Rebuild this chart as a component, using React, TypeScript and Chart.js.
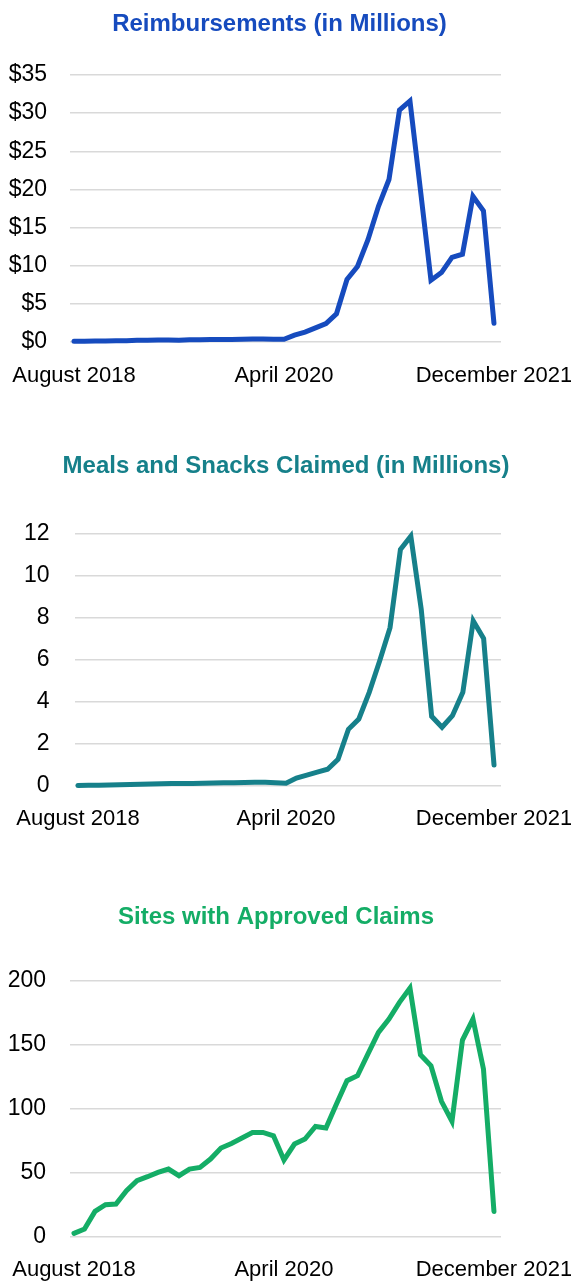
import React, { useEffect, useRef } from "react";
import { Chart, registerables } from "chart.js";

Chart.register(...registerables);

// x positions are month indexes: 0 = August 2018 ... 40 = December 2021
const xTickIndex = [0, 20, 40];
const xTickLabels = ["August 2018", "April 2020", "December 2021"];

const reimbursements = [
  0.1, 0.1, 0.12, 0.14, 0.16, 0.18, 0.22, 0.24, 0.26, 0.25, 0.24, 0.28, 0.3, 0.32,
  0.34, 0.33, 0.36, 0.4, 0.38, 0.36, 0.35, 0.9, 1.3, 1.85, 2.4, 3.7, 8.2, 9.9, 13.4,
  17.8, 21.3, 30.4, 31.6, 19.9, 8.1, 9.1, 11.1, 11.5, 19.1, 17.2, 2.45,
];

const meals = [
  0.02, 0.03, 0.04, 0.05, 0.06, 0.07, 0.08, 0.1, 0.11, 0.12, 0.12, 0.12, 0.13, 0.14,
  0.15, 0.16, 0.17, 0.18, 0.18, 0.16, 0.13, 0.38, 0.52, 0.66, 0.8, 1.27, 2.7, 3.19,
  4.46, 5.95, 7.54, 11.26, 11.9, 8.42, 3.32, 2.8, 3.35, 4.46, 7.86, 7.02, 1.0,
];

const sites = [
  2.8, 6.2, 20, 25.2, 25.8, 36.2, 44, 47.1, 50.5, 53.1, 47.9, 53.1, 54.4, 60.9, 69.5,
  73.1, 77.3, 81.7, 81.7, 79.1, 60.2, 72.6, 76.5, 86.4, 85.1, 103.9, 122.1, 126, 143,
  159.8, 170.3, 183.3, 194.5, 142.4, 133.8, 106, 90.3, 153.9, 170.3, 131.2, 20,
];

const FONT = '"Liberation Sans", Arial, sans-serif';

const shiftTitle = {
  id: "shiftTitle",
  afterLayout(chart: any, _args: any, opts: any) {
    const t = chart.titleBlock;
    if (t && opts && opts.dx) {
      t.left += opts.dx;
      t.right += opts.dx;
    }
  },
};

type PanelProps = {
  title: string;
  color: string;
  values: number[];
  height: number;
  padTop: number;
  titleGap: number;
  titleDx: number;
  padRight: number;
  yWidth: number;
  yPad: number;
  xHeight: number;
  xPad: number;
  xMin: number;
  xMax: number;
  yMax: number;
  yStep: number;
  prefix: string;
};

function Panel(p: PanelProps) {
  const ref = useRef<HTMLCanvasElement>(null);
  useEffect(() => {
    const chart = new Chart(ref.current as HTMLCanvasElement, {
      type: "line",
      data: {
        datasets: [
          {
            data: p.values.map((v, i) => ({ x: i, y: v })),
            borderColor: p.color,
            backgroundColor: p.color,
            borderWidth: 5,
            pointRadius: 0,
            tension: 0,
            fill: false,
            borderCapStyle: "round",
            borderJoinStyle: "miter",
            clip: false,
          } as any,
        ],
      },
      plugins: [shiftTitle],
      options: {
        responsive: false,
        animation: false,
        layout: {
          padding: { top: p.padTop, left: 0, right: p.padRight, bottom: 0 },
        },
        plugins: {
          legend: { display: false },
          tooltip: { enabled: false },
          shiftTitle: { dx: p.titleDx },
          title: {
            display: true,
            text: p.title,
            color: p.color,
            font: { family: FONT, size: 24, weight: "bold", lineHeight: 1.2 },
            padding: { top: 0, bottom: p.titleGap },
          },
        },
        scales: {
          x: {
            type: "linear",
            min: p.xMin,
            max: p.xMax,
            grid: { display: false, drawTicks: false },
            border: { display: false },
            afterBuildTicks: (s: any) => {
              s.ticks = xTickIndex.map((v) => ({ value: v }));
            },
            afterFit: (s: any) => {
              s.height = p.xHeight;
              s.paddingLeft = 0;
              s.paddingRight = 0;
            },
            ticks: {
              autoSkip: false,
              maxRotation: 0,
              minRotation: 0,
              color: "#000",
              padding: p.xPad,
              font: { family: FONT, size: 22, lineHeight: 1.2 },
              callback: (v: any) => {
                const k = xTickIndex.indexOf(Number(v));
                return k >= 0 ? xTickLabels[k] : "";
              },
            },
          },
          y: {
            min: 0,
            max: p.yMax,
            grid: { color: "#d9d9d9", lineWidth: 1.5, drawTicks: false },
            border: { display: false },
            afterFit: (s: any) => {
              s.width = p.yWidth;
              s.paddingTop = 0;
              s.paddingBottom = 0;
            },
            ticks: {
              stepSize: p.yStep,
              color: "#000",
              padding: p.yPad,
              font: { family: FONT, size: 23, lineHeight: 1.2 },
              callback: (v: any) => p.prefix + v,
            },
          },
        },
      } as any,
    });
    return () => chart.destroy();
  }, []);
  return (
    <canvas
      ref={ref}
      width={571}
      height={p.height}
      style={{ display: "block", width: 571, height: p.height }}
    />
  );
}

export default function App() {
  return (
    <div style={{ position: "absolute", left: 0, top: 0, width: 571, background: "#fff" }}>
      <Panel
        title="Reimbursements (in Millions)"
        color="#164BBE"
        values={reimbursements}
        height={400}
        padTop={9.6}
        titleGap={36.6}
        titleDx={29}
        padRight={70}
        yWidth={70}
        yPad={23}
        xHeight={58}
        xPad={20.8}
        xMin={-0.38}
        xMax={40.67}
        yMax={35}
        yStep={5}
        prefix="$"
      />
      <Panel
        title="Meals and Snacks Claimed (in Millions)"
        color="#16808A"
        values={meals}
        height={450}
        padTop={52.1}
        titleGap={53.1}
        titleDx={35.5}
        padRight={70}
        yWidth={75}
        yPad={25.5}
        xHeight={64}
        xPad={19.8}
        xMin={-0.29}
        xMax={40.67}
        yMax={12}
        yStep={2}
        prefix=""
      />
      <Panel
        title="Sites with Approved Claims"
        color="#14AD66"
        values={sites}
        height={434}
        padTop={52.6}
        titleGap={49.6}
        titleDx={25.5}
        padRight={70}
        yWidth={70}
        yPad={24}
        xHeight={47}
        xPad={19.8}
        xMin={-0.38}
        xMax={40.67}
        yMax={200}
        yStep={50}
        prefix=""
      />
    </div>
  );
}
